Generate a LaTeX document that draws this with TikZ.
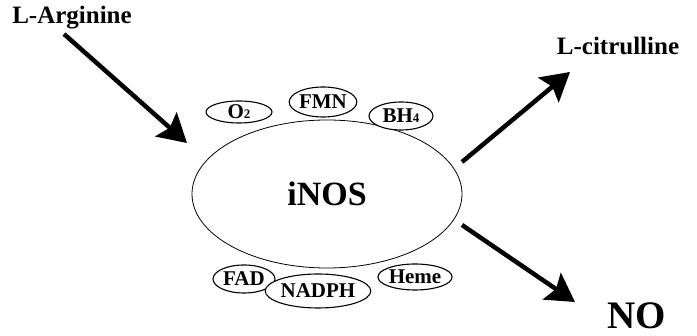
\documentclass[tikz,border=0pt]{standalone}
\usepackage{fontspec}
\setmainfont{Liberation Serif}
\usetikzlibrary{shapes.geometric,arrows.meta}
\newcommand{\fsz}[1]{\fontsize{#1}{#1}\selectfont}
\newcommand{\cofsub}[1]{{\fsz{13}#1}}

\begin{document}
\begin{tikzpicture}[x=1pt, y=-1pt, font=\bfseries,
    enzyme/.style={ellipse, draw, line width=.8pt, inner sep=0pt},
    cofactor/.style={ellipse, draw, fill=white, line width=1.1pt, inner sep=0pt, font=\bfseries\fsz{21}},
    flux/.style={line width=4.5pt, -{Stealth[length=28pt,width=32pt,inset=5pt]}}]
    \useasboundingbox (0,0) rectangle (697,336);
    % enzyme and its cofactors
    \node[enzyme, minimum width=270pt, minimum height=148pt] (inos) at (327,194) {\fsz{34}iNOS};
    \node[cofactor, minimum width=66pt, minimum height=22pt] (o2) at (239,112) {O\cofsub{2}};
    \node[cofactor, minimum width=66pt, minimum height=30pt] (fmn) at (323,102) {FMN};
    \node[cofactor, minimum width=64pt, minimum height=28pt] (bh4) at (401,116) {BH\cofsub{4}};
    \node[cofactor, minimum width=62pt, minimum height=28pt] (fad) at (244,279) {FAD};
    \node[cofactor, minimum width=82pt, minimum height=34pt] (nadph) at (318,291) {NADPH};
    \node[cofactor, minimum width=70pt, minimum height=26pt] (heme) at (415,277) {Heme};
    % substrate and products
    \node (arg) at (72,18) {\fsz{25}L-Arginine};
    \node (cit) at (618,46) {\fsz{25}L-citrulline};
    \node (no) at (637,316) {\fsz{39}NO};
    \coordinate (argtail) at (64,34);
    \coordinate (argtip) at (187,143);
    \coordinate (cittail) at (462,162);
    \coordinate (cittip) at (570,72);
    \coordinate (notail) at (462,225);
    \coordinate (notip) at (575,302);
    \draw[flux] (argtail) -- (argtip);
    \draw[flux] (cittail) -- (cittip);
    \draw[flux] (notail) -- (notip);
\end{tikzpicture}
\end{document}
